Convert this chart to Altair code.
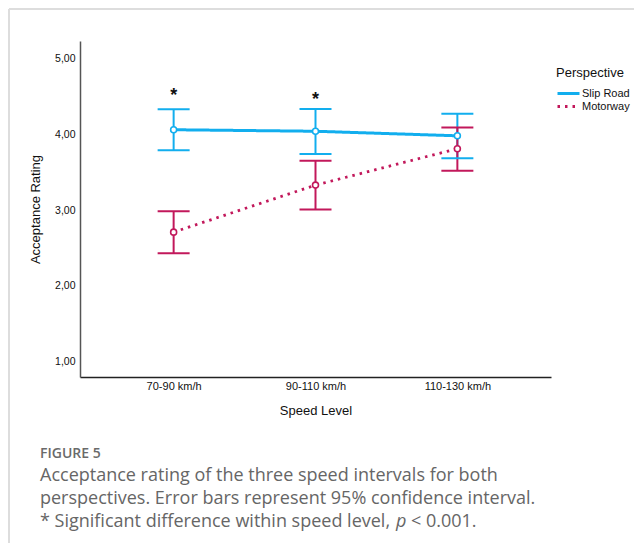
import altair as alt
import pandas as pd

# ---- data ----
speeds = ["70-90 km/h", "90-110 km/h", "110-130 km/h"]
perspectives = ["Slip Road", "Motorway"]
slip_mean = [4.06, 4.04, 3.98]
slip_lo = [3.79, 3.74, 3.685]
slip_hi = [4.33, 4.335, 4.27]
mot_mean = [2.71, 3.33, 3.81]
mot_lo = [2.43, 3.01, 3.52]
mot_hi = [2.985, 3.65, 4.09]
sig_speeds = ["70-90 km/h", "90-110 km/h"]
sig_y = [4.57, 4.52]
y_ticks = [1, 2, 3, 4, 5]
caption_head = "FIGURE 5"
caption_lines = [
    "Acceptance rating of the three speed intervals for both",
    "perspectives. Error bars represent 95% confidence interval.",
]
caption_last = ["* Significant difference within speed level,", "p", "< 0.001."]

colors = ["#12AEEE", "#C2185B"]

rows = []
for i, s in enumerate(speeds):
    rows.append(dict(speed=s, Perspective="Slip Road", mean=slip_mean[i], lo=slip_lo[i], hi=slip_hi[i]))
    rows.append(dict(speed=s, Perspective="Motorway", mean=mot_mean[i], lo=mot_lo[i], hi=mot_hi[i]))
df = pd.DataFrame(rows)
sig_df = pd.DataFrame(dict(speed=sig_speeds, y=sig_y, t=["*"] * len(sig_speeds)))
one = pd.DataFrame({"a": [0]})

W, H = 471, 336

x_enc = alt.X(
    "speed:N", sort=speeds,
    scale=alt.Scale(type="point", padding=0.66),
    axis=alt.Axis(title="Speed Level", labelAngle=0, ticks=False, domainColor="#222",
                  domainWidth=1.5, labelFontSize=11, labelPadding=3, labelColor="#111",
                  titleFontSize=13, titlePadding=13, titleFontWeight="normal", titleColor="#111"),
)
y_scale = alt.Scale(domain=[0.8, 5.23], nice=False, zero=False)
y_enc = alt.Y(
    "mean:Q", scale=y_scale,
    axis=alt.Axis(title="Acceptance Rating", values=y_ticks, ticks=False, grid=False,
                  domainColor="#555", domainWidth=1.5,
                  labelExpr="replace(format(datum.value, '.2f'), '.', ',')",
                  labelFontSize=10.5, labelPadding=5, labelColor="#111",
                  titleFontSize=13, titlePadding=12, titleFontWeight="normal", titleColor="#111"),
)
stroke_enc = alt.Stroke("Perspective:N", scale=alt.Scale(domain=perspectives, range=colors), legend=None)
fill_enc = alt.Fill("Perspective:N", scale=alt.Scale(domain=perspectives, range=colors), legend=None)

leg = alt.Legend(orient="none", legendX=476, legendY=26, title="Perspective",
                 titleFontSize=13, titleFontWeight="normal", titleColor="#111",
                 labelFontSize=11, labelColor="#111", symbolType="stroke",
                 symbolSize=484, symbolStrokeWidth=3, clipHeight=13,
                 labelOffset=1, titlePadding=7, rowPadding=0)

base = alt.Chart(df)

lines = base.mark_line(strokeCap="butt").encode(
    x=x_enc, y=y_enc,
    color=alt.Color("Perspective:N", scale=alt.Scale(domain=perspectives, range=colors), legend=leg),
    strokeDash=alt.StrokeDash("Perspective:N",
                              scale=alt.Scale(domain=perspectives, range=[[1, 0], [2.5, 5]]),
                              legend=leg),
    strokeWidth=alt.StrokeWidth("Perspective:N",
                                scale=alt.Scale(domain=perspectives, range=[3, 2.8]), legend=None),
)

rules = base.mark_rule(strokeWidth=2).encode(
    x=alt.X("speed:N", sort=speeds), y=alt.Y("lo:Q", scale=y_scale), y2="hi:Q", stroke=stroke_enc)
caps_lo = base.mark_tick(size=32, thickness=2, opacity=1).encode(
    x=alt.X("speed:N", sort=speeds), y=alt.Y("lo:Q", scale=y_scale), fill=fill_enc)
caps_hi = base.mark_tick(size=32, thickness=2, opacity=1).encode(
    x=alt.X("speed:N", sort=speeds), y=alt.Y("hi:Q", scale=y_scale), fill=fill_enc)
points = base.mark_point(filled=False, size=36, strokeWidth=1.6, opacity=1).encode(
    x=alt.X("speed:N", sort=speeds), y=alt.Y("mean:Q", scale=y_scale), stroke=stroke_enc,
    fill=alt.value("white"))

stars = alt.Chart(sig_df).mark_text(fontSize=18, fontWeight="bold", color="#111", baseline="middle", dy=5).encode(
    x=alt.X("speed:N", sort=speeds), y=alt.Y("y:Q", scale=y_scale), text="t:N")

frame_v = alt.Chart(one).mark_rule(color="#dddddd", strokeWidth=2).encode(
    x=alt.value(-71), y=alt.value(-32), y2=alt.value(700))
frame_h = alt.Chart(one).mark_rule(color="#dddddd", strokeWidth=2).encode(
    x=alt.value(-71), x2=alt.value(800), y=alt.value(-32))

cap_font = "Open Sans"
cap_size = 18
cap_x = -40
head = alt.Chart(one).mark_text(text=caption_head, font=cap_font, fontSize=14, fontWeight=600,
                                color="#6a6a6a", align="left", baseline="middle").encode(
    x=alt.value(cap_x), y=alt.value(413))
cap_layers = []
for i, t in enumerate(caption_lines):
    cap_layers.append(alt.Chart(one).mark_text(text=t, font=cap_font, fontSize=cap_size, color="#666666",
                                               align="left", baseline="middle").encode(
        x=alt.value(cap_x), y=alt.value(435 + 23 * i)))
cap_layers.append(alt.Chart(one).mark_text(text=caption_last[0], font=cap_font, fontSize=cap_size,
                                           color="#666666", align="left", baseline="middle").encode(
    x=alt.value(cap_x), y=alt.value(481)))
cap_layers.append(alt.Chart(one).mark_text(text=caption_last[1], font=cap_font, fontSize=cap_size,
                                           color="#666666", fontStyle="italic", align="left",
                                           baseline="middle").encode(
    x=alt.value(316), y=alt.value(481)))
cap_layers.append(alt.Chart(one).mark_text(text=caption_last[2], font=cap_font, fontSize=cap_size,
                                           color="#666666", align="left", baseline="middle").encode(
    x=alt.value(331), y=alt.value(481)))

chart = alt.layer(
    frame_v, frame_h, lines, rules, caps_lo, caps_hi, points, stars, head, *cap_layers
).properties(
    width=W, height=H,
    padding={"left": 72, "top": 33, "right": 626 - 72 - W, "bottom": 535 - 33 - H},
    autosize=alt.AutoSizeParams(type="none"),
).configure(
    font="Liberation Sans", background="white"
).configure_view(stroke=None)

chart.save("out.html", embed_options={"renderer": "svg", "actions": False})
